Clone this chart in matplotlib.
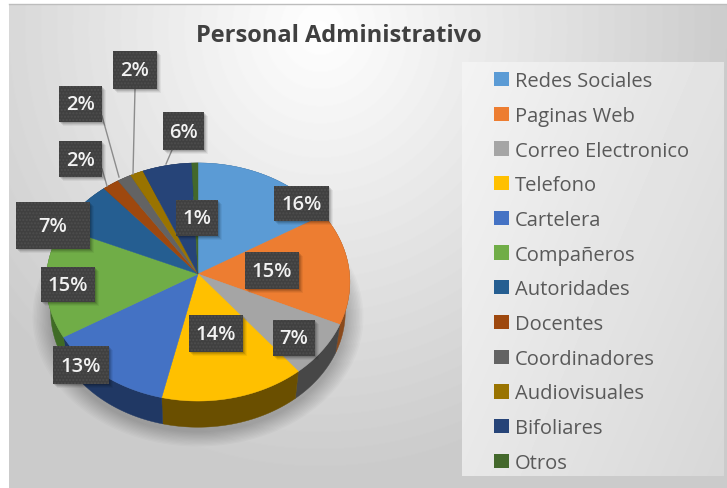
import numpy as np
import matplotlib
matplotlib.use('Agg')
import matplotlib.pyplot as plt
from matplotlib.patches import Rectangle, Patch

#chart data, estimated percentages
categories = ['Redes Sociales', 'Paginas Web', 'Correo Electronico', 'Telefono', 'Cartelera', 'Compañeros',
              'Autoridades', 'Docentes', 'Coordinadores', 'Audiovisuales', 'Bifoliares', 'Otros']
values = [16.4, 15.4, 7.4, 14.4, 12.8, 15.1, 7.2, 1.9, 1.6, 1.5, 5.6, 0.7]

#colours of the top face and the side of each slice
top_colors = ['#5b9bd5', '#ed7d31', '#a5a5a5', '#ffc000', '#4472c4', '#70ad47',
              '#255e91', '#9e480e', '#636363', '#997300', '#264478', '#43682b']
side_colors = ['#2e5c86', '#8a4a1c', '#474747', '#6a4f00', '#203864', '#3f6b25',
               '#163a5a', '#5e2b08', '#3b3b3b', '#5b4400', '#16294a', '#283e1a']

#label boxes in pixels: left, top, right, bottom
label_boxes = [(274, 187, 329, 222), (245, 253, 299, 290), (273, 321, 315, 357), (189, 316, 243, 353),
               (53, 347, 109, 385), (41, 268, 95, 303), (16, 203, 90, 250), (59, 142, 102, 178),
               (59, 87, 102, 123), (113, 52, 157, 90), (163, 113, 204, 151), (176, 201, 218, 237)]
leaders = [((102, 170), (107, 187)), ((102, 117), (119, 178)), ((135, 90), (133, 175)), ((172, 151), (166, 165))]

W, H = 727, 489
CX, CY, R, A, K = 198, 275, 151.5, 118.5, 0.0672
DEPTH, BOTTOM_SCALE = 30, 0.97

fig = plt.figure(figsize=(W / 100, H / 100), dpi=100, facecolor='white')
ax = fig.add_axes([0, 0, 1, 1])
ax.set_xlim(0, W)
ax.set_ylim(H, 0)
ax.axis('off')


def project(frac):
    # perspective view of a point on the rim, frac = share of the circle clockwise from the top
    t = 2 * np.pi * np.asarray(frac)
    v = -np.cos(t)
    d = 1 - K * v
    return CX + R * np.sin(t) / d, CY + A * v / d


def bottom(x, y):
    return CX + BOTTOM_SCALE * (x - CX), CY + DEPTH + BOTTOM_SCALE * (y - CY)


#background gradients
yy, xx = np.mgrid[5:H, 9:W]
r = np.sqrt(((xx - 320) / 400.0) ** 2 + ((yy - 30) / 430.0) ** 2)
ax.imshow(255 - 50 * np.minimum(r, 1.05), cmap='gray', vmin=0, vmax=255, extent=(9, W, H, 5),
          aspect='auto', zorder=0)
ax.plot([9, W], [4.5, 4.5], color='#bdbdbd', lw=1, zorder=1)
yy, xx = np.mgrid[63:477, 462:724]
shade = 243 - 28 * ((xx - 462) / 262.0 * 0.6 + (yy - 63) / 414.0 * 0.4)
ax.imshow(shade, cmap='gray', vmin=0, vmax=255, extent=(462, 724, 477, 63), aspect='auto', zorder=1)
ax.set_xlim(0, W)
ax.set_ylim(H, 0)

#soft shadow under the pie
ring = np.linspace(0, 1, 200)
for grow in np.linspace(1.09, 0.98, 12):
    x, y = project(ring)
    ax.fill(CX + grow * (x - CX), CY + 34 + grow * (y - CY), color='black', alpha=0.02, lw=0, zorder=2)

#slices
bounds = np.cumsum([0] + values) / np.sum(values)
for i in range(len(values)):
    fr = np.linspace(bounds[i], bounds[i + 1], 60)
    x, y = project(fr)
    bx, by = bottom(x, y)
    ax.fill(np.r_[x, bx[::-1]], np.r_[y, by[::-1]], facecolor=side_colors[i], edgecolor=side_colors[i],
            lw=0.3, zorder=3)
for i in range(len(values)):
    fr = np.linspace(bounds[i], bounds[i + 1], 60)
    x, y = project(fr)
    ax.fill(np.r_[CX, x], np.r_[CY, y], facecolor=top_colors[i], edgecolor=top_colors[i], lw=0.3, zorder=4)

#leader lines
for p, q in leaders:
    ax.plot([p[0], q[0]], [p[1], q[1]], color='#8c8c8c', lw=1, zorder=5)

#data labels
for i, (l, t, rr, b) in enumerate(label_boxes):
    for off, alpha in [(5, 0.05), (4, 0.07), (3, 0.1), (2, 0.12)]:
        ax.add_patch(Rectangle((l + off - 1, t + off - 1), rr - l, b - t, facecolor='black', alpha=alpha,
                               lw=0, zorder=6))
    ax.add_patch(Rectangle((l, t), rr - l, b - t, facecolor='#404040', edgecolor='#4e4e4e', hatch='.....',
                           lw=0, zorder=7))
    ax.text((l + rr) / 2, (t + b) / 2 + 0.5, f'{values[i]:.0f}%', color='#f2f2f2', fontsize=14.5, family='Open Sans',
            weight='semibold', ha='center', va='center', zorder=8)

ax.text(339, 36, 'Personal Administrativo', color='#404040', fontsize=17, family='Open Sans', weight='bold',
        ha='center', va='center', zorder=8)

#legend
handles = [Patch(facecolor=c, edgecolor='none', label=n) for c, n in zip(top_colors, categories)]
leg = ax.legend(handles=handles, loc='upper left', bbox_to_anchor=(478 / W, 1 - 56 / H), frameon=False,
                labelspacing=0.73, handlelength=0.72, handleheight=0.72, handletextpad=0.31, borderpad=0.3,
                prop={'family': 'Open Sans', 'size': 14.5})
for txt in leg.get_texts():
    txt.set_color('#595959')
leg.set_zorder(9)

fig.savefig('out.png', dpi=100)
